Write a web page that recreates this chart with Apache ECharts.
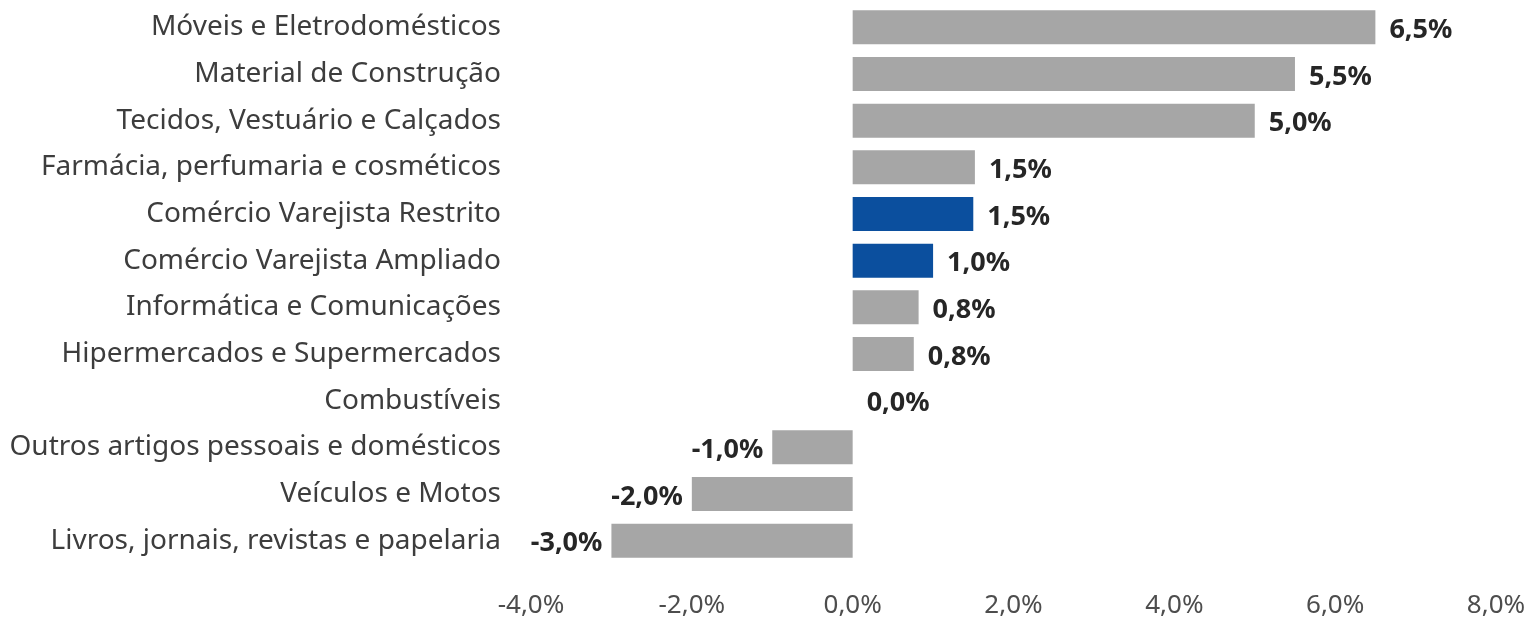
<!DOCTYPE html>
<html>
<head>
    <meta charset="utf-8">
    <title>Varejo</title>
    <script src="https://cdn.jsdelivr.net/npm/echarts@6/dist/echarts.min.js"></script>
    <style>
        html, body { margin: 0; padding: 0; background: #fff; }
        #main { width: 1533px; height: 623px; }
    </style>
</head>
<body>
    <div id="main"></div>
    <script type="text/javascript">
        // categorias de cima para baixo
        var categorias = [
            'Móveis e Eletrodomésticos',
            'Material de Construção',
            'Tecidos, Vestuário e Calçados',
            'Farmácia, perfumaria e cosméticos',
            'Comércio Varejista Restrito',
            'Comércio Varejista Ampliado',
            'Informática e Comunicações',
            'Hipermercados e Supermercados',
            'Combustíveis',
            'Outros artigos pessoais e domésticos',
            'Veículos e Motos',
            'Livros, jornais, revistas e papelaria'
        ];
        var valores = [6.5, 5.5, 5.0, 1.52, 1.5, 1.0, 0.82, 0.76, 0.0, -1.0, -2.0, -3.0];
        var destaques = ['Comércio Varejista Restrito', 'Comércio Varejista Ampliado'];
        var ticksX = [-4, -2, 0, 2, 4, 6, 8];

        function pct(v) {
            return v.toFixed(1).replace('.', ',') + '%';
        }

        var fonte = 'Noto Sans';
        var dados = valores.map(function (v, i) {
            var azul = destaques.indexOf(categorias[i]) >= 0;
            return {
                value: v,
                itemStyle: { color: azul ? '#0b4f9e' : '#a6a6a6' },
                label: {
                    position: v < 0 ? 'left' : 'right',
                    distance: v < 0 ? 9 : 14
                }
            };
        });

        var myChart = echarts.init(document.getElementById('main'));
        var option = {
            animation: false,
            grid: { left: 531, right: 37, top: 4, bottom: 59, containLabel: false },
            xAxis: {
                type: 'value',
                min: ticksX[0],
                max: ticksX[ticksX.length - 1],
                interval: 2,
                splitLine: { show: false },
                axisLine: { show: false },
                axisTick: { show: false },
                axisLabel: {
                    margin: 29,
                    fontFamily: fonte,
                    fontSize: 26,
                    color: '#4d4d4d',
                    formatter: function (v) { return pct(v); }
                }
            },
            yAxis: {
                type: 'category',
                inverse: true,
                data: categorias,
                axisLine: { show: false },
                axisTick: { show: false },
                axisLabel: {
                    margin: 30,
                    fontFamily: fonte,
                    fontSize: 28,
                    color: '#3d3d3d'
                }
            },
            series: [{
                type: 'bar',
                data: dados,
                barWidth: 34,
                label: {
                    show: true,
                    fontFamily: fonte,
                    fontSize: 27,
                    fontWeight: 'bold',
                    color: '#262626',
                    offset: [0, 3],
                    formatter: function (p) { return pct(p.value); }
                }
            }]
        };
        myChart.setOption(option);
    </script>
</body>
</html>
